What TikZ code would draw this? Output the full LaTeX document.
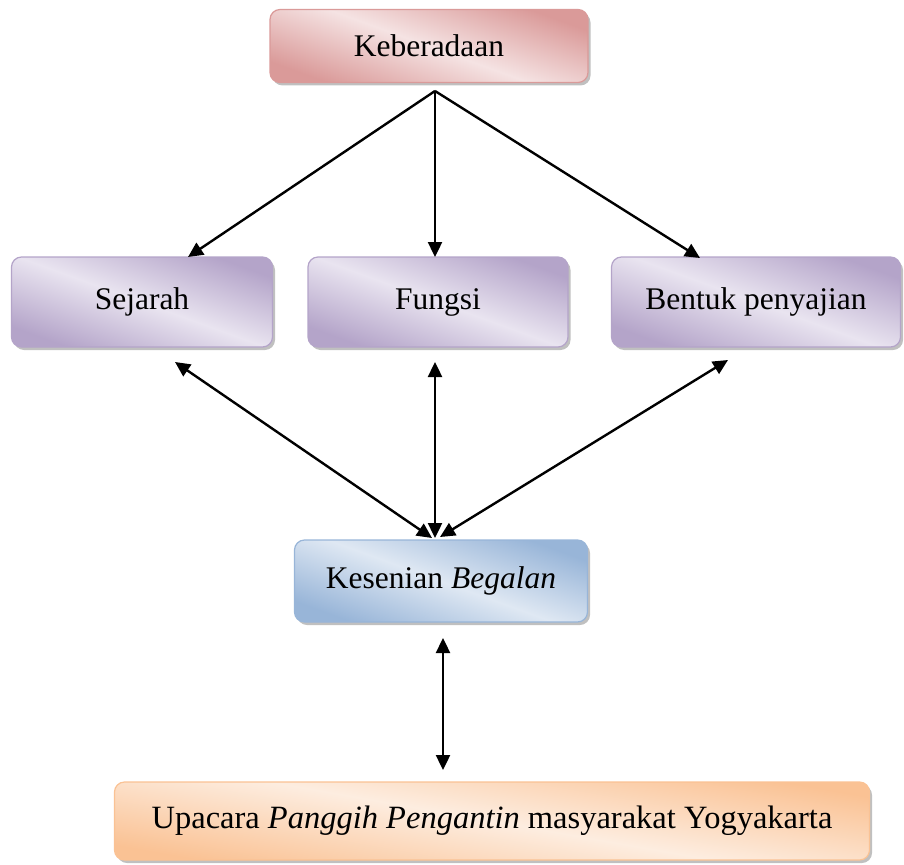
\documentclass[tikz,border=0pt]{standalone}
\usepackage{fontspec}
\setmainfont{Liberation Serif}
\usetikzlibrary{arrows.meta,shadows}
\definecolor{rdk}{HTML}{DA9A99}
\definecolor{rlt}{HTML}{F5E3E3}
\definecolor{pdk}{HTML}{B4A4C9}
\definecolor{plt}{HTML}{E9E4F0}
\definecolor{bdk}{HTML}{98B5D8}
\definecolor{blt}{HTML}{DFE8F3}
\definecolor{odk}{HTML}{FAC294}
\definecolor{olt}{HTML}{FDEDE0}
\tikzset{
  boxbase/.style={rounded corners=10pt, inner sep=0pt, font=\fontsize{31.5}{36}\selectfont,
    drop shadow={shadow xshift=2.5pt, shadow yshift=-3pt, fill=black!45, opacity=0.55}},
  redbox/.style={boxbase, draw=rdk, line width=1.2pt, left color=rdk, right color=rdk, middle color=rlt, shading angle=160},
  purbox/.style={boxbase, draw=pdk, line width=1.2pt, left color=pdk, right color=pdk, middle color=plt, shading angle=160},
  blubox/.style={boxbase, draw=bdk, line width=1.2pt, left color=bdk, right color=bdk, middle color=blt, shading angle=160},
  orabox/.style={boxbase, draw=odk, line width=1.2pt, left color=odk, right color=odk, middle color=olt, shading angle=170},
  arr/.style={line width=2.4pt, -{Triangle[length=15pt,width=14pt]}},
  darr/.style={line width=2.4pt, {Triangle[length=15pt,width=14pt]}-{Triangle[length=15pt,width=14pt]}}
}
\begin{document}
\begin{tikzpicture}[x=1pt,y=-1pt]
\useasboundingbox (0,0) rectangle (904,864);
\node[redbox, minimum width=318pt, minimum height=73pt] (kb) at (429,46) {Keberadaan};
\node[purbox, minimum width=261pt, minimum height=90pt] (sj) at (142,302) {Sejarah};
\node[purbox, minimum width=260pt, minimum height=90pt] (fg) at (438,302) {Fungsi};
\node[purbox, minimum width=289pt, minimum height=90pt] (bp) at (756,302) {Bentuk penyajian};
\node[blubox, minimum width=293pt, minimum height=82pt] (ks) at (441,581) {Kesenian \textit{Begalan}\hspace{12pt}};
\node[orabox, minimum width=755pt, minimum height=78pt, font=\fontsize{32.5}{37}\selectfont] (up) at (492,821) {Upacara \textit{Panggih Pengantin} masyarakat Yogyakarta};

\coordinate (apex) at (435,91);
\coordinate (t1) at (188,257);
\coordinate (t2) at (435,257);
\coordinate (t3) at (700,258);
\draw[arr] (apex) -- (t1);
\draw[arr] (apex) -- (t2);
\draw[arr] (apex) -- (t3);

\coordinate (b1) at (175,362);
\coordinate (b2) at (435,362);
\coordinate (b3) at (728,360);
\coordinate (k1) at (432,538);
\coordinate (k2) at (435,538);
\coordinate (k3) at (440,537);
\draw[darr] (b1) -- (k1);
\draw[darr] (b2) -- (k2);
\draw[darr] (b3) -- (k3);

\coordinate (ku) at (443,638);
\coordinate (ua) at (443,770);
\draw[darr] (ku) -- (ua);
\end{tikzpicture}
\end{document}
